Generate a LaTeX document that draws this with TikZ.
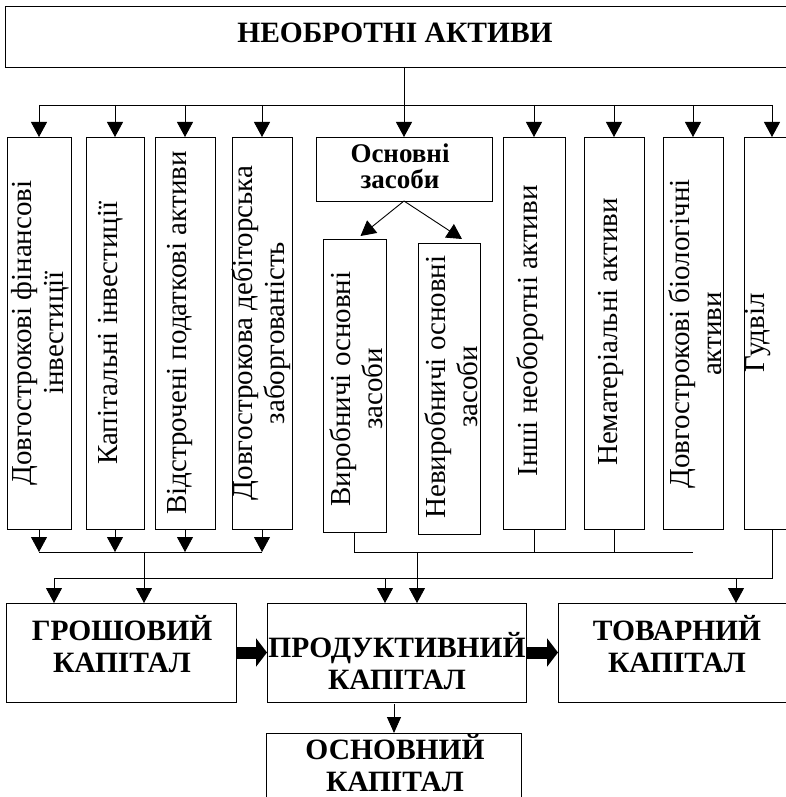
\documentclass[tikz,border=0pt]{standalone}
\usepackage{fontspec}
\setmainfont{Liberation Serif}
\usetikzlibrary{arrows.meta}
\begin{document}
\begin{tikzpicture}[x=1pt,y=-1pt,
  box/.style={draw=black, line width=0.9pt, inner sep=0pt, outer sep=0pt},
  ln/.style={line width=0.9pt},
  arr/.style={line width=0.9pt, -{Triangle[width=16pt,length=15pt]}},
  vt/.style={rotate=90, align=center, font=\fontsize{29}{32}\selectfont, inner sep=0pt},
  bt/.style={align=center, font=\fontsize{29.5}{32}\bfseries\selectfont, inner sep=0pt},
  fat/.style={line width=12pt, -{Triangle[width=28pt,length=11pt]}}
]
\useasboundingbox (0,0) rectangle (785,797);

% top box
\node[box, minimum width=785, minimum height=61] (top) at (397.5,36.5) {};
\node[bt] (topT) at (395,32.5) {НЕОБРОТНІ АКТИВИ};

% column boxes
\node[box, minimum width=64, minimum height=392] (c1) at (39,333) {};
\node[box, minimum width=58, minimum height=392] (c2) at (115,333) {};
\node[box, minimum width=60, minimum height=392] (c3) at (185,333) {};
\node[box, minimum width=60, minimum height=392] (c4) at (262,333) {};
\node[box, minimum width=176, minimum height=64] (os) at (404,169) {};
\node[box, minimum width=63, minimum height=293] (vyr) at (354.5,385.5) {};
\node[box, minimum width=62, minimum height=291] (nev) at (449,388.5) {};
\node[box, minimum width=62, minimum height=392] (c8) at (534,333) {};
\node[box, minimum width=60, minimum height=392] (c9) at (614,333) {};
\node[box, minimum width=60, minimum height=392] (c10) at (693,333) {};
\node[box, minimum width=56, minimum height=392] (c11) at (772,333) {};

% column texts
\node[vt] (c1T) at (40,333) {Довгострокові фінансові\\інвестиції};
\node[vt] (c2T) at (111,333) {Капітальні інвестиції};
\node[vt] (c3T) at (180,333) {Відстрочені податкові активи};
\node[vt] (c4T) at (261,333) {Довгострокова дебіторська\\заборгованість};
\node[align=center, font=\fontsize{27}{26}\bfseries\selectfont, inner sep=0pt] (osT) at (400,166) {Основні\\засоби};
\node[vt] (vyrT) at (356,389) {Виробничі основні\\засоби};
\node[vt] (nevT) at (451,387) {Невиробничі основні\\засоби};
\node[vt] (c8T) at (530,331) {Інші необоротні активи};
\node[vt] (c9T) at (611,332) {Нематеріальні активи};
\node[vt] (c10T) at (695,334) {Довгострокові біологічні\\активи};
\node[vt] (c11T) at (758,333) {Гудвіл};

% bottom boxes
\node[box, minimum width=230, minimum height=99] (gros) at (121,652.5) {};
\node[box, minimum width=259, minimum height=99] (prod) at (396.5,652.5) {};
\node[box, minimum width=242, minimum height=99] (tov) at (679,652.5) {};
\node[box, minimum width=255, minimum height=87] (osn) at (394,776.5) {};
\node[bt] (grosT) at (122,644) {ГРОШОВИЙ\\КАПІТАЛ};
\node[bt] (prodT) at (397,661) {ПРОДУКТИВНИЙ\\КАПІТАЛ};
\node[bt] (tovT) at (677,644) {ТОВАРНИЙ\\КАПІТАЛ};
\node[bt] (osnT) at (395,763) {ОСНОВНИЙ\\КАПІТАЛ};

% top bus
\coordinate (busL) at (39,105);
\coordinate (busR) at (772,105);
\draw[ln] (busL) -- (busR);
\draw[arr] (top.south -| os.north) -- (os.north);
\foreach \n in {c1,c2,c3,c4,c8,c9,c10,c11}{
  \draw[arr] (\n.north |- busL) -- (\n.north);
}
\draw[arr] (os.south) -- ([xshift=6pt,yshift=3pt]vyr.north);
\draw[arr] (os.south) -- ([xshift=13pt,yshift=4pt]nev.north);

% lower left bus
\coordinate (lbL) at (39,552);
\coordinate (lbR) at (262,552);
\coordinate (lbM) at (144,552);
\draw[ln] (lbL) -- (lbR);
\foreach \n in {c1,c2,c3,c4}{
  \draw[arr] (\n.south) -- (\n.south |- lbL);
}
\draw[arr] (lbM) -- (lbM |- gros.north);

% lower right bus
\coordinate (rbL) at (354.5,552);
\coordinate (rbR) at (693,552);
\coordinate (rbM) at (417,552);
\draw[ln] (vyr.south) -- (rbL) -- (rbR);
\draw[ln] (c8.south) -- (c8.south |- rbL);
\draw[ln] (c9.south) -- (c9.south |- rbL);
\draw[arr] (rbM) -- (rbM |- prod.north);

% second bus
\coordinate (sb1) at (54,578);
\coordinate (sb2) at (385,578);
\coordinate (sb3) at (736,578);
\coordinate (sbR) at (772,578);
\draw[ln] (c11.south) -- (sbR) -- (sb1);
\draw[arr] (sb1) -- (sb1 |- gros.north);
\draw[arr] (sb2) -- (sb2 |- prod.north);
\draw[arr] (sb3) -- (sb3 |- tov.north);

% thick arrows
\draw[fat] (gros.east) -- (prod.west);
\draw[fat] (prod.east) -- (tov.west);
\draw[ln, -{Triangle[width=14pt,length=16pt]}] ([yshift=-2pt]prod.south -| osn.north) -- (osn.north);
\end{tikzpicture}
\end{document}
